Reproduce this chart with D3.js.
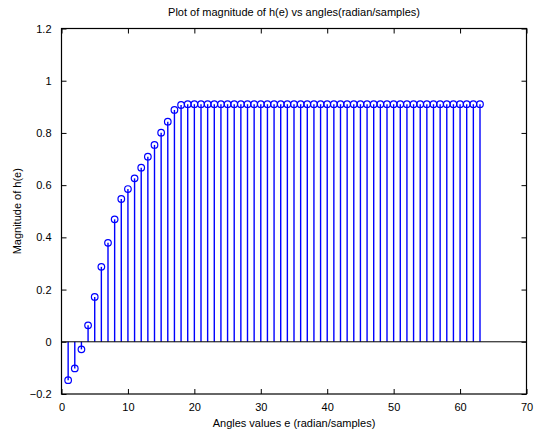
<!DOCTYPE html>
<html><head><meta charset="utf-8">
<script src="https://cdn.jsdelivr.net/npm/d3@7"></script>
<style>
html,body{margin:0;padding:0;background:#fff;}
svg{display:block;font-family:"Liberation Sans",Arial,sans-serif;}
</style></head><body>
<svg id="c" width="534" height="440"></svg>
<script>
const titleText = "Plot of magnitude of h(e) vs angles(radian/samples)";
const xLabel = "Angles values e (radian/samples)";
const yLabel = "Magnitude of h(e)";
const xTicks = [0,10,20,30,40,50,60,70];
const yTicks = [-0.2,0,0.2,0.4,0.6,0.8,1,1.2];
const rampValues = [-0.147,-0.102,-0.029,0.063,0.172,0.287,0.379,0.469,0.547,0.585,0.626,0.667,0.709,0.754,0.801,0.843,0.888,0.907];
const flatValue = 0.91;
const flatCount = 45;
const samples = rampValues.concat(Array(flatCount).fill(flatValue));
const indices = samples.map((_, i) => i + 1);

const svg = d3.select("#c");
const L = 61.5, R = 526.5, T = 28.5, B = 394;
const x = d3.scaleLinear().domain([0,70]).range([L,R]);
const y = d3.scaleLinear().domain([-0.2,1.2]).range([B,T]);
const blue = "#0000ff";

// stems
svg.append("g").selectAll("line").data(indices).enter().append("line")
  .attr("x1", d => x(d)).attr("x2", d => x(d))
  .attr("y1", y(0)).attr("y2", (d,i) => y(samples[i]))
  .attr("stroke", blue).attr("stroke-width", 1.4);

// baseline
svg.append("line").attr("x1", L).attr("x2", R).attr("y1", y(0)).attr("y2", y(0))
  .attr("stroke", "#000").attr("stroke-width", 1);

// markers
svg.append("g").selectAll("circle").data(indices).enter().append("circle")
  .attr("cx", d => x(d)).attr("cy", (d,i) => y(samples[i])).attr("r", 3.3)
  .attr("fill", "none").attr("stroke", blue).attr("stroke-width", 1.2);

// axes (ticks inward on all sides)
const fmt = d => (d === 0 ? "0" : d3.format("~g")(d));
const gb = svg.append("g").attr("transform", `translate(0,${B})`)
  .call(d3.axisBottom(x).tickValues(xTicks).tickSizeInner(-5).tickSizeOuter(0).tickPadding(9).tickFormat(fmt));
const gt = svg.append("g").attr("transform", `translate(0,${T})`)
  .call(d3.axisTop(x).tickValues(xTicks).tickSizeInner(-5).tickSizeOuter(0).tickFormat(""));
const gl = svg.append("g").attr("transform", `translate(${L},0)`)
  .call(d3.axisLeft(y).tickValues(yTicks).tickSizeInner(-5).tickSizeOuter(0).tickPadding(10).tickFormat(fmt));
const gr = svg.append("g").attr("transform", `translate(${R},0)`)
  .call(d3.axisRight(y).tickValues(yTicks).tickSizeInner(-5).tickSizeOuter(0).tickFormat(""));
[gb,gt,gl,gr].forEach(g => {
  g.select(".domain").remove();
  g.selectAll("line").attr("stroke", "#000").attr("stroke-width", 1);
  g.selectAll("text").attr("fill", "#000").style("font-size", "11px").style("font-family", "'Liberation Sans',Arial,sans-serif");
});
svg.append("rect").attr("x", L).attr("y", T).attr("width", R-L).attr("height", B-T)
  .attr("fill", "none").attr("stroke", "#000").attr("stroke-width", 1.2);

// labels
svg.append("text").attr("x", (L+R)/2).attr("y", 16).attr("text-anchor", "middle")
  .style("font-size", "11px").attr("fill", "#000").text(titleText);
svg.append("text").attr("x", (L+R)/2).attr("y", 427).attr("text-anchor", "middle")
  .style("font-size", "11px").attr("fill", "#000").text(xLabel);
svg.append("text").attr("transform", `translate(21,${(T+B)/2}) rotate(-90)`).attr("text-anchor", "middle")
  .style("font-size", "11px").attr("fill", "#000").text(yLabel);
</script>
</body></html>
